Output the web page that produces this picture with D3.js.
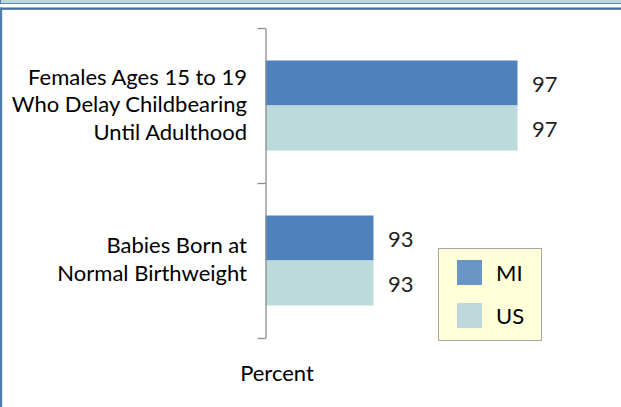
<!DOCTYPE html>
<html>
<head>
<meta charset="utf-8">
<script src="https://cdn.jsdelivr.net/npm/d3@7"></script>
<style>
  html, body { margin: 0; padding: 0; background: #ffffff; }
  svg { display: block; }
  text { font-family: Lato, "Open Sans", sans-serif; }
</style>
</head>
<body>
<svg id="chart" width="621" height="407"></svg>
<script>
// Indicator labels (one array of lines per category)
const categories = [
  ["Females Ages 15 to 19", "Who Delay Childbearing", "Until Adulthood"],
  ["Babies Born at", "Normal Birthweight"]
];
const seriesNames = ["MI", "US"];
const miValues = [97, 93];
const usValues = [97, 93];
const xDomain = [90, 100];
const axisTitle = "Percent";

const barColors = { MI: "#4f81bd", US: "#bcdadc" };
const legendColors = { MI: "#6a96c4", US: "#bdd9dc" };
const FS = 22;

const svg = d3.select("#chart");
const W = 621, H = 407;

// Frame decorations
svg.append("rect").attr("x", 0).attr("y", 0).attr("width", W).attr("height", 3.5).attr("fill", "#bcd8dd");
svg.append("rect").attr("x", 0).attr("y", 3).attr("width", W).attr("height", 1).attr("fill", "#5b8db5");
svg.append("rect").attr("x", 0).attr("y", 0).attr("width", 1).attr("height", 4).attr("fill", "#4a7fae");
svg.append("rect").attr("x", 0).attr("y", 7.5).attr("width", W).attr("height", 2.3).attr("fill", "#41719c");
svg.append("rect").attr("x", 0).attr("y", 7.5).attr("width", 2.2).attr("height", H - 7.5).attr("fill", "#4a7fb0");

// Scales
const plotTop = 28, plotBottom = 338, plotLeft = 265.5;
const x = d3.scaleLinear().domain(xDomain).range([plotLeft, plotLeft + 360]);
const catIdx = categories.map((_, i) => i);
const y = d3.scaleBand().domain(catIdx).range([plotTop, plotBottom])
  .paddingInner(65 / 155).paddingOuter(65 / 310);
const ySub = d3.scaleBand().domain(seriesNames).range([0, y.bandwidth()]);

const rows = catIdx.map(i => ({ i, MI: miValues[i], US: usValues[i] }));

// Bars
const groups = svg.append("g").selectAll("g").data(rows).join("g")
  .attr("transform", d => `translate(0,${y(d.i)})`);

groups.selectAll("rect").data(d => seriesNames.map(s => ({ s, v: d[s] })))
  .join("rect")
  .attr("x", x(xDomain[0]))
  .attr("y", d => ySub(d.s))
  .attr("width", d => x(d.v) - x(xDomain[0]))
  .attr("height", ySub.bandwidth())
  .attr("fill", d => barColors[d.s]);

// Value labels
groups.selectAll("text.val").data(d => seriesNames.map(s => ({ s, v: d[s] })))
  .join("text")
  .attr("class", "val")
  .attr("x", d => x(d.v) + 14.5)
  .attr("y", d => ySub(d.s) + ySub.bandwidth() / 2 + 9)
  .attr("font-size", FS)
  .attr("fill", "#1f1f1f")
  .text(d => d.v);

// Category axis with ticks between categories
const yEdge = d3.scaleLinear().domain([0, categories.length]).range([plotTop, plotBottom]);
const axis = svg.append("g")
  .attr("transform", `translate(${plotLeft},0)`)
  .call(d3.axisLeft(yEdge).tickValues(d3.range(categories.length + 1))
    .tickFormat("").tickSizeInner(8).tickSizeOuter(0));
axis.select(".domain").attr("stroke", "#8c8c8c").attr("stroke-width", 1.3);
axis.selectAll(".tick line").attr("stroke", "#8c8c8c").attr("stroke-width", 1.3);

// Category labels
const lineGap = 27.5;
categories.forEach((lines, i) => {
  const cy = y(i) + y.bandwidth() / 2;
  const t = svg.append("text")
    .attr("text-anchor", "end")
    .attr("font-size", FS)
    .attr("fill", "#000");
  lines.forEach((ln, k) => {
    t.append("tspan")
      .attr("x", 247)
      .attr("y", cy + 6.5 + (k - (lines.length - 1) / 2) * lineGap)
      .text(ln);
  });
});

// Axis title
svg.append("text")
  .attr("x", 277).attr("y", 380.5)
  .attr("text-anchor", "middle")
  .attr("font-size", FS)
  .attr("fill", "#000")
  .text(axisTitle);

// Legend
const legend = svg.append("g").attr("transform", "translate(438.5,248.5)");
legend.append("rect").attr("width", 103).attr("height", 92)
  .attr("fill", "#ffffd9").attr("stroke", "#a6a6a6").attr("stroke-width", 1);
seriesNames.forEach((s, k) => {
  legend.append("rect").attr("x", 18.5).attr("y", 11.5 + k * 43)
    .attr("width", 25).attr("height", 25).attr("fill", legendColors[s]);
  legend.append("text").attr("x", 57.5).attr("y", 32.5 + k * 42.5)
    .attr("font-size", FS).attr("fill", "#000").text(s);
});
</script>
</body>
</html>
